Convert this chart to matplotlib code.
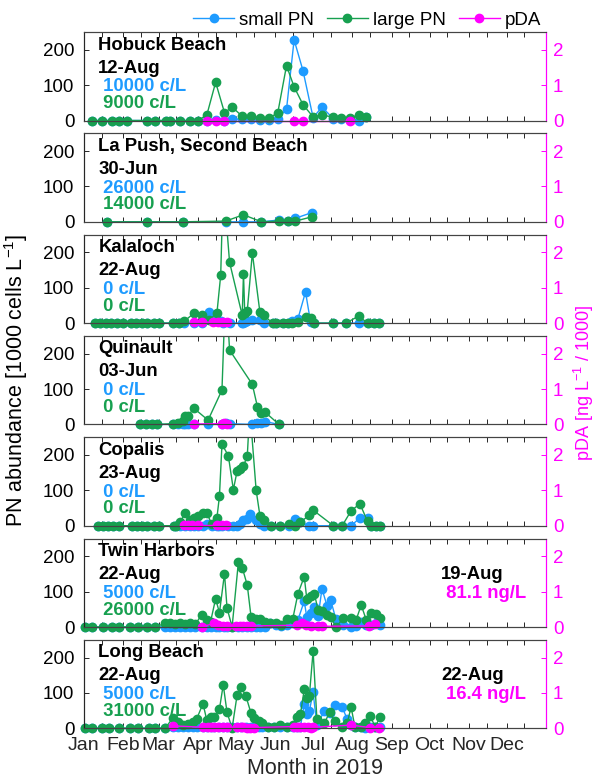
import matplotlib
matplotlib.use("Agg")
import matplotlib.pyplot as plt
from matplotlib.transforms import Bbox, TransformedBbox
from matplotlib.ticker import FixedLocator

plt.rcParams['font.family'] = ['Liberation Sans', 'DejaVu Sans']
plt.rcParams['mathtext.fontset'] = 'custom'
plt.rcParams['mathtext.rm'] = 'Liberation Sans'
plt.rcParams['mathtext.it'] = 'Liberation Sans:italic'
plt.rcParams['mathtext.bf'] = 'Liberation Sans:bold'
plt.rcParams['mathtext.default'] = 'rm'

# ---------------- data (day of year, 0 = 1 Jan 2019) ----------------
sites = ["Hobuck Beach", "La Push, Second Beach", "Kalaloch", "Quinault",
         "Copalis", "Twin Harbors", "Long Beach"]
last_dates = ["12-Aug", "30-Jun", "22-Aug", "03-Jun", "23-Aug", "22-Aug", "22-Aug"]
last_small = ["10000 c/L", "26000 c/L", "0 c/L", "0 c/L", "0 c/L", "5000 c/L", "5000 c/L"]
last_large = ["9000 c/L", "14000 c/L", "0 c/L", "0 c/L", "0 c/L", "26000 c/L", "31000 c/L"]
pda_dates = [None, None, None, None, None, "19-Aug", "22-Aug"]
pda_last = [None, None, None, None, None, "81.1 ng/L", "16.4 ng/L"]

hob_days = [6, 14, 22, 28, 34, 50, 56, 65, 68, 76, 84, 90, 97, 104, 111, 117, 125, 132,
            139, 146, 153, 160, 166, 173, 181, 188, 197, 203, 210, 217, 223]
hob_large = [0, 0, 0, 0, 0, 0, 0, 0, 0, 0, 0, 0, 15, 108, 22, 38, 12, 12, 8, 8, 20, 155,
             95, 45, 10, 15, 10, 8, 8, 15, 9]
hob_small = [0, 0, 0, 0, 0, 0, 0, 0, 0, 0, 0, 0, 0, 2, 0, 5, 3, 3, 2, 2, 5, 32, 228, 141,
             8, 38, 5, 3, 2, 0, 10]
hob_pda_days = [97, 104, 111, 166, 173, 210]
hob_pda = [0, 0, 0, 0, 0, 0]

lap_days = [18, 50, 78, 112, 126, 140, 154, 161, 167, 180]
lap_large = [0, 0, 0, 2, 20, 0, 2, 1, 2, 14]
lap_small = [0, 0, 0, 0, 0, 0, 5, 2, 10, 26]
lap_pda_days = []
lap_pda = []

kal_days = [9, 13, 17, 21, 26, 31, 37, 41, 46, 50, 55, 59, 70, 75, 79, 87, 93, 99, 105,
            108, 110, 115, 125, 126, 127, 129, 133, 139, 142, 149, 152, 157, 161, 164,
            169, 175, 179, 182, 197, 207, 217, 224, 229, 233]
kal_large = [0, 0, 0, 0, 0, 0, 0, 0, 0, 0, 0, 0, 0, 0, 5, 28, 24, 10, 28, 135, 400, 172,
             22, 140, 28, 35, 198, 30, 22, 0, 0, 0, 0, 0, 2, 17, 15, 0, 0, 0, 20, 0, 0, 0]
kal_small = [0, 0, 0, 0, 0, 0, 0, 0, 0, 0, 0, 0, 0, 0, 0, 0, 0, 30, 8, 5, 0, 0, 0, 0, 3,
             5, 10, 8, 0, 0, 0, 0, 0, 5, 12, 88, 3, 0, 0, 0, 0, 0, 0, 0]
kal_pda_days = [87, 93, 102, 106, 110, 113]
kal_pda = [0.02, 0.02, 0.03, 0.04, 0.03, 0.02]

qui_days = [44, 49, 54, 58, 70, 74, 78, 80, 82, 87, 98, 109, 112, 115, 133, 137, 140,
            143, 154]
qui_large = [0, 0, 0, 0, 2, 5, 10, 25, 25, 45, 12, 97, 400, 210, 113, 50, 33, 35, 0]
qui_small = [0, 0, 0, 0, 0, 0, 0, 0, 0, 0, 0, 0, 3, 2, 0, 3, 5, 8, 0]
qui_pda_days = [87, 109, 111, 113]
qui_pda = [0.01, 0.02, 0.03, 0.02]

cop_days = [11, 15, 19, 23, 28, 38, 42, 46, 50, 55, 59, 71, 73, 76, 80, 84, 87, 90, 94,
            97, 101, 105, 107, 109, 114, 118, 121, 123, 126, 129, 131, 136, 139, 142,
            148, 155, 162, 167, 171, 178, 181, 197, 204, 211, 218, 224, 227, 231, 234]
cop_large = [0, 0, 0, 0, 0, 0, 0, 0, 0, 0, 0, 0, 0, 10, 36, 15, 22, 28, 36, 35, 5, 22,
             83, 230, 198, 102, 155, 160, 169, 197, 330, 100, 28, 15, 0, 0, 5, 0, 10, 30,
             44, 0, 0, 42, 62, 12, 0, 0, 0]
cop_small = [0, 0, 0, 0, 0, 0, 0, 0, 0, 0, 0, 0, 0, 0, 0, 0, 0, 0, 0, 5, 0, 0, 0, 0, 0,
             0, 0, 5, 15, 20, 32, 15, 5, 0, 0, 0, 0, 20, 10, 0, 0, 0, 0, 0, 22, 22, 0, 0, 0]
cop_pda_days = [79, 82, 85, 90, 105, 109, 112]
cop_pda = [0.02, 0.02, 0.02, 0.02, 0.02, 0.02, 0.02]

twi_days = [1, 6, 15, 22, 28, 36, 43, 50, 56, 64, 68, 72, 76, 80, 84, 88, 93, 97, 100,
            104, 107, 111, 113, 117, 122, 125, 129, 132, 136, 139, 143, 147, 152, 156,
            160, 165, 169, 174, 176, 179, 182, 185, 188, 192, 195, 199, 205, 211, 215,
            219, 223, 227, 231, 234]
twi_large = [0, 0, 0, 0, 0, 0, 0, 0, 0, 10, 10, 8, 10, 8, 10, 8, 35, 21, 15, 80, 40, 151,
             54, 0, 184, 168, 118, 28, 22, 24, 15, 10, 10, 5, 24, 24, 94, 142, 80, 87, 94,
             47, 45, 33, 28, 0, 25, 25, 20, 62, 20, 40, 38, 26]
twi_small = [0, 0, 0, 0, 0, 0, 0, 0, 0, 0, 0, 0, 0, 0, 0, 0, 0, 0, 0, 0, 0, 0, 0, 0, 0,
             0, 0, 0, 0, 0, 0, 12, 5, 3, 5, 10, 20, 73, 28, 40, 57, 30, 108, 60, 75, 22,
             5, 0, 3, 15, 5, 5, 10, 5]
twi_pda_days = [93, 103, 106, 110, 113, 120, 123, 126, 129, 132, 168, 172, 175, 179,
                185, 188, 225, 230]
twi_pda = [0.01, 0.10, 0.06, 0.04, 0.03, 0.02, 0.02, 0.02, 0.02, 0.03, 0.05, 0.12, 0.05,
           0.03, 0.03, 0.02, 0.03, 0.081]

lon_days = [1, 6, 14, 20, 28, 36, 43, 51, 56, 64, 70, 74, 78, 82, 86, 89, 94, 97, 100,
            103, 107, 110, 113, 117, 121, 124, 128, 132, 134, 138, 141, 145, 150, 155,
            160, 165, 168, 171, 174, 176, 178, 181, 184, 190, 194, 198, 204, 208, 211,
            214, 219, 222, 226, 230, 234]
lon_large = [0, 0, 0, 0, 0, 0, 0, 0, 0, 0, 28, 18, 10, 12, 17, 26, 70, 23, 33, 31, 54,
             123, 45, 0, 95, 118, 90, 42, 28, 20, 15, 5, 5, 8, 5, 10, 33, 40, 110, 86, 90,
             218, 26, 15, 45, 20, 5, 15, 60, 5, 5, 15, 35, 5, 31]
lon_small = [0, 0, 0, 0, 0, 0, 0, 0, 0, 0, 3, 3, 3, 3, 3, 3, 3, 3, 3, 3, 3, 3, 3, 3, 3, 3,
             3, 3, 3, 3, 3, 5, 5, 5, 5, 5, 5, 5, 68, 40, 48, 102, 8, 50, 44, 65, 60, 25,
             10, 5, 5, 2, 5, 3, 5]
lon_pda_days = [70, 94, 98, 100, 103, 106, 110, 113, 121, 124, 126, 129, 131, 134, 166,
                168, 171, 174, 177, 179, 181, 211, 226, 233]
lon_pda = [0.07, 0.03, 0.03, 0.03, 0.05, 0.03, 0.05, 0.03, 0.03, 0.03, 0.03, 0.02, 0.02,
           0.02, 0.05, 0.05, 0.04, 0.04, 0.03, 0.02, 0.03, 0.09, 0.02, 0.0164]

all_days = [hob_days, lap_days, kal_days, qui_days, cop_days, twi_days, lon_days]
all_small = [hob_small, lap_small, kal_small, qui_small, cop_small, twi_small, lon_small]
all_large = [hob_large, lap_large, kal_large, qui_large, cop_large, twi_large, lon_large]
all_pda_days = [hob_pda_days, lap_pda_days, kal_pda_days, qui_pda_days, cop_pda_days,
                twi_pda_days, lon_pda_days]
all_pda = [hob_pda, lap_pda, kal_pda, qui_pda, cop_pda, twi_pda, lon_pda]

month_labels = ["Jan", "Feb", "Mar", "Apr", "May", "Jun", "Jul", "Aug", "Sep", "Oct",
                "Nov", "Dec"]
month_starts = [0, 31, 59, 90, 120, 151, 181, 212, 243, 273, 304, 334]

# ---------------- styling ----------------
C_SMALL = '#1e9bff'
C_LARGE = '#17a050'
C_PDA = '#ff00ff'
C_AX = '#262626'
MS = 6

W, H = 599, 781
fig = plt.figure(figsize=(W / 100, H / 100), dpi=100)

left_px, right_px = 84, 546
top0, step, hgt = 32, 101.3, 88.5


def ext_clip(ax, line):
    bb = TransformedBbox(Bbox([[-0.02, -0.09], [1.02, 1.0]]), ax.transAxes)
    line.set_clip_box(bb)


handles = []
for i in range(7):
    top = top0 + i * step
    rect = [left_px / W, 1 - (top + hgt) / H, (right_px - left_px) / W, hgt / H]
    ax = fig.add_axes(rect)
    ax2 = ax.twinx()

    l1, = ax.plot(all_days[i], all_small[i], '-o', color=C_SMALL, ms=MS, lw=1,
                  label='small PN')
    l2, = ax.plot(all_days[i], all_large[i], '-o', color=C_LARGE, ms=MS, lw=1,
                  label='large PN')
    ext_clip(ax, l1)
    ext_clip(ax, l2)
    l3, = ax2.plot(all_pda_days[i], all_pda[i], '-o', color=C_PDA, ms=MS, lw=1,
                   label='pDA')
    ext_clip(ax2, l3)
    if i == 0:
        handles = [l1, l2, l3]

    ax.set_xlim(0, 365)
    ax.set_ylim(0, 250)
    ax2.set_ylim(0, 2.5)
    ax.set_yticks([0, 100, 200])
    ax2.set_yticks([0, 1, 2])
    ax.xaxis.set_major_locator(FixedLocator(month_starts))
    ax.xaxis.set_minor_locator(FixedLocator([m + 14 for m in month_starts]))
    ax.tick_params(axis='x', which='both', direction='in', top=True, bottom=True,
                   length=3.5, width=0.7, color=C_AX, labelsize=14, pad=6,
                   labelcolor=C_AX)
    ax.tick_params(axis='y', direction='in', length=3.5, width=0.7, color=C_AX,
                   labelsize=13.5, pad=7, labelcolor='black')
    ax2.tick_params(axis='y', direction='in', length=3.5, width=0.7, color=C_PDA,
                    labelsize=13.5, pad=5, labelcolor=C_PDA)
    if i == 6:
        ax.set_xticklabels(month_labels)
    else:
        ax.set_xticklabels([])
    for a in (ax, ax2):
        for s in a.spines.values():
            s.set_linewidth(0.8)
            s.set_color('#444444')
        a.spines['left'].set_color(C_AX)
        a.spines['right'].set_color(C_PDA)

    tx = 0.031
    fs = 13.3
    ax.text(tx, 0.853, sites[i], transform=ax.transAxes, fontsize=fs,
            fontweight='bold', color='black', va='center', ha='left', zorder=5)
    ax.text(tx, 0.593, last_dates[i], transform=ax.transAxes, fontsize=fs,
            fontweight='bold', color='black', va='center', ha='left', zorder=5)
    ax.text(tx, 0.38, " " + last_small[i], transform=ax.transAxes, fontsize=fs,
            fontweight='bold', color=C_SMALL, va='center', ha='left', zorder=5)
    ax.text(tx, 0.19, " " + last_large[i], transform=ax.transAxes, fontsize=fs,
            fontweight='bold', color=C_LARGE, va='center', ha='left', zorder=5)
    if pda_dates[i] is not None:
        ax.text(0.773, 0.593, pda_dates[i], transform=ax.transAxes, fontsize=fs,
                fontweight='bold', color='black', va='center', ha='left', zorder=5)
        ax.text(0.773, 0.38, " " + pda_last[i], transform=ax.transAxes, fontsize=fs,
                fontweight='bold', color=C_PDA, va='center', ha='left', zorder=5)

fig.legend(handles=handles, loc='center', bbox_to_anchor=(367 / W, 1 - 20 / H),
           ncol=3, frameon=False, fontsize=13.5, handlelength=2.2,
           handletextpad=0.25, columnspacing=0.7, borderaxespad=0, borderpad=0)

fig.text((left_px + right_px) / 2 / W, 1 - 769 / H, "Month in 2019", ha='center',
         va='center', fontsize=15.5, color=C_AX)
fig.text(16 / W, 1 - 380 / H, "PN abundance [1000 cells L$^{-1}$]", rotation=90,
         ha='center', va='center', fontsize=15.5, color='black')
fig.text(584 / W, 1 - 383 / H, "pDA [ng L$^{-1}$ / 1000]", rotation=90,
         ha='center', va='center', fontsize=13, color=C_PDA)

fig.savefig("out.png", dpi=100)
